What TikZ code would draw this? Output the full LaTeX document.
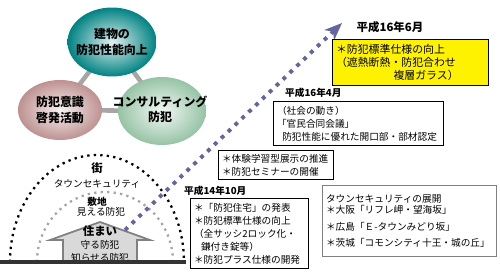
\documentclass[tikz,border=0pt]{standalone}
\usepackage{fontspec}
\setmainfont{Noto Sans CJK JP}
\usetikzlibrary{positioning, shapes.geometric, arrows.meta, backgrounds}

\definecolor{trendblue}{RGB}{100,100,160}
\definecolor{mauve}{RGB}{190,145,145}
\definecolor{sage}{RGB}{150,195,165}
\definecolor{deepteal}{RGB}{0,130,130}

\newcommand{\jtext}{\fontsize{5.5}{7.4}\selectfont}
\newcommand{\jmid}{\fontsize{6.5}{8}\selectfont\bfseries}
\newcommand{\jbig}{\fontsize{6.8}{8.6}\selectfont\bfseries}

\begin{document}
\begin{tikzpicture}[x=0.02cm, y=-0.02cm,
    blob/.style={ellipse, inner sep=0pt, draw=none},
    blobtext/.style={font=\jbig, align=center},
    link/.style={line width=2.6pt, gray!70},
    townarc/.style={line width=1.3pt, dash pattern=on 1.3pt off 2.4pt},
    note/.style={draw, line width=0.6pt, anchor=north west, align=left, inner sep=2pt, font=\jtext},
    era/.style={anchor=west, font=\jtext\bfseries},
    trend/.style={line width=2.2pt, dash pattern=on 2.2pt off 3.2pt, trendblue,
        -{Stealth[length=10pt, width=8pt, inset=3pt]}}
]
    \useasboundingbox (0,0) rectangle (500,271);

    % --- THREE CIRCLES ---
    \node[blob, minimum width=1.78cm, minimum height=1.38cm, shade,
        inner color=deepteal!12, outer color=deepteal] (C-top) at (112,42) {};
    \node[blob, minimum width=1.68cm, minimum height=1.2cm, shade,
        inner color=mauve!12, outer color=mauve] (C-left) at (60,110) {};
    \node[blob, minimum width=1.76cm, minimum height=1.36cm, shade,
        inner color=sage!12, outer color=sage] (C-right) at (162,111) {};

    \node[blobtext] (t-top) at (C-top) {建物の\\防犯性能向上};
    \node[blobtext] (t-left) at (C-left) {防犯意識\\啓発活動};
    \node[blobtext] (t-right) at (160,109) {コンサルティング\\防犯};

    \begin{scope}[on background layer]
        \draw[link] (C-top.center) -- (C-left.center) -- (C-right.center) -- cycle;
    \end{scope}

    % --- TOWN / SITE / HOME ---
    \draw[townarc] (10,262) arc[start angle=180, end angle=0, x radius=1.74cm, y radius=2.14cm];
    \draw[townarc, gray!70] (37,262) arc[start angle=180, end angle=0, x radius=1.36cm, y radius=1.4cm];

    \node[font=\jmid] (street) at (97,168) {街};
    \node[font=\jtext] (street-sub) at (97,184) {タウンセキュリティ};
    \node[font=\jtext\bfseries] (site) at (97,202) {敷地};
    \node[font=\jtext] (site-sub) at (101,212) {見える防犯};

    \draw[fill=black!15, draw=black!50, line width=1pt]
        (63,262) -- (63,240) -- (50,240) -- (100,222) -- (150,240) -- (137,240) -- (137,262);
    \node[align=center, font=\jtext] (home) at (100,244) {{\jmid 住まい}\\守る防犯\\知らせる防犯};

    \coordinate (ground-l) at (0,262);
    \coordinate (ground-r) at (186,262);
    \draw[line width=2.3pt, black!80] (ground-l) -- (ground-r);

    % --- TREND ARROW ---
    \coordinate (trend-start) at (125,230);
    \coordinate (trend-end) at (342,23);
    \draw[trend] (trend-start) -- (trend-end);

    % --- MILESTONES ---
    \node[font=\jmid] (h16-6) at (390,27) {平成16年6月};
    \node[note, fill=yellow, text width=3.12cm-4pt, minimum height=0.92cm,
        font=\fontsize{6.2}{7.6}\selectfont] (n-glass) at (332,39)
        {＊防犯標準仕様の向上\\（遮熱断熱・防犯合わせ\\\hspace*{1.15cm}複層ガラス）};

    \node[era] (h16-4) at (279,93) {平成16年4月};
    \node[note, text width=3.4cm-4pt, minimum height=0.88cm] (n-council) at (273,101)
        {（社会の動き）\\「官民合同会議」\\\hspace*{3pt}防犯性能に優れた開口部・部材認定};

    \node[note, text width=2.3cm-4pt, minimum height=0.52cm] (n-seminar) at (218,150)
        {＊体験学習型展示の推進\\＊防犯セミナーの開催};

    \node[era] (h14-10) at (178,191) {平成14年10月};
    \node[note, text width=2.36cm-4pt, minimum height=1.4cm] (n-house) at (190,198)
        {＊「防犯住宅」の発表\\＊防犯標準仕様の向上\\（全サッシ2ロック化・\\\hspace*{4pt}鎌付き錠等）\\＊防犯プラス仕様の開発};

    \node[note, draw=black!50, text width=3.48cm-4pt, minimum height=1.42cm] (n-town) at (322,185)
        {タウンセキュリティの展開\\[-1pt]＊大阪「リフレ岬・望海坂」\\[2pt]＊広島「Ｅ-タウンみどり坂」\\[2pt]＊茨城「コモンシティ十王・城の丘」};

\end{tikzpicture}
\end{document}
